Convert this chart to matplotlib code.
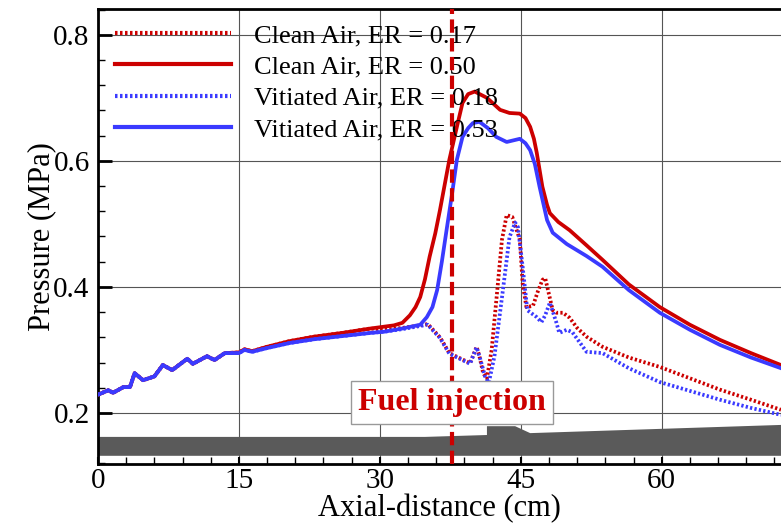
import matplotlib
matplotlib.use("Agg")
import matplotlib.pyplot as plt
from matplotlib.ticker import MultipleLocator
from matplotlib.patches import Polygon

plt.rcParams['font.family'] = ['Liberation Serif', 'DejaVu Serif']

# ---- data ----
# common upstream part (x in cm, pressure in MPa)
x_up = [0.0, 1.1, 1.6, 2.7, 3.4, 3.9, 4.8, 6.0, 6.9, 7.9, 9.5, 10.1, 11.6, 12.4, 13.5, 15.0, 15.6, 16.4, 18.0, 20.4, 23.0, 26.0, 29.0]
p_up_red = [0.229, 0.236, 0.232, 0.241, 0.241, 0.263, 0.252, 0.258, 0.276, 0.268, 0.286, 0.278, 0.290, 0.284, 0.295, 0.296, 0.301, 0.298, 0.305, 0.314, 0.321, 0.327, 0.334]
p_up_blue = [0.229, 0.236, 0.232, 0.241, 0.241, 0.263, 0.252, 0.258, 0.276, 0.268, 0.286, 0.278, 0.290, 0.284, 0.295, 0.295, 0.300, 0.297, 0.303, 0.311, 0.317, 0.322, 0.327]

# Clean Air, ER = 0.50 (downstream of 29 cm)
x_c50 = [30.5, 31.5, 32.4, 33.2, 33.8, 34.3, 34.8, 35.3, 35.9, 36.4, 37.4, 38.2, 38.8, 39.4, 40.1, 41.4, 42.8, 43.8, 44.9, 45.5, 46.0, 46.4, 46.7, 47.3, 47.8, 48.1, 49.0, 50.2, 52.0, 53.7, 56.5, 59.8, 63.0, 66.2, 69.5, 72.7]
p_c50 = [0.337, 0.339, 0.343, 0.355, 0.368, 0.384, 0.412, 0.448, 0.485, 0.522, 0.602, 0.654, 0.692, 0.706, 0.710, 0.700, 0.681, 0.676, 0.675, 0.668, 0.654, 0.635, 0.613, 0.559, 0.530, 0.517, 0.503, 0.490, 0.466, 0.443, 0.404, 0.368, 0.340, 0.316, 0.295, 0.276]

# Vitiated Air, ER = 0.53
x_v53 = [30.5, 32.4, 34.3, 35.0, 35.6, 36.1, 36.6, 37.1, 37.7, 38.2, 38.8, 39.4, 39.9, 40.6, 41.5, 42.4, 43.5, 44.9, 45.5, 46.0, 46.5, 47.0, 47.8, 48.4, 49.9, 52.0, 53.7, 56.5, 59.8, 63.0, 66.2, 69.5, 72.7]
p_v53 = [0.329, 0.334, 0.340, 0.352, 0.368, 0.395, 0.440, 0.490, 0.549, 0.602, 0.638, 0.652, 0.660, 0.662, 0.652, 0.638, 0.630, 0.635, 0.628, 0.617, 0.595, 0.559, 0.506, 0.486, 0.468, 0.449, 0.432, 0.395, 0.359, 0.332, 0.308, 0.288, 0.271]

# Clean Air, ER = 0.17
x_c17 = [30.5, 32.4, 34.3, 35.1, 36.4, 37.4, 38.5, 39.6, 40.3, 40.6, 41.0, 41.4, 41.9, 42.4, 43.0, 43.5, 44.1, 44.9, 45.2, 45.6, 46.3, 46.8, 47.3, 47.6, 48.4, 48.8, 49.5, 50.2, 51.0, 52.0, 53.7, 56.5, 59.8, 63.0, 66.2, 69.5, 72.7]
p_c17 = [0.332, 0.335, 0.339, 0.341, 0.320, 0.295, 0.287, 0.279, 0.305, 0.290, 0.263, 0.255, 0.300, 0.379, 0.475, 0.514, 0.511, 0.475, 0.406, 0.368, 0.370, 0.392, 0.411, 0.414, 0.363, 0.359, 0.359, 0.351, 0.335, 0.321, 0.305, 0.288, 0.273, 0.255, 0.237, 0.221, 0.205]

# Vitiated Air, ER = 0.18
x_v18 = [30.5, 32.4, 34.3, 35.1, 36.4, 37.4, 38.5, 39.6, 40.3, 40.7, 41.2, 41.6, 42.2, 43.1, 43.8, 44.4, 44.7, 45.2, 45.7, 46.7, 47.2, 47.6, 48.1, 48.8, 49.1, 49.9, 50.5, 52.0, 53.7, 56.5, 59.8, 63.0, 66.2, 69.5, 72.7]
p_v18 = [0.329, 0.333, 0.338, 0.340, 0.319, 0.294, 0.286, 0.278, 0.304, 0.285, 0.258, 0.248, 0.290, 0.395, 0.479, 0.502, 0.495, 0.432, 0.363, 0.352, 0.344, 0.355, 0.375, 0.343, 0.327, 0.332, 0.328, 0.297, 0.295, 0.271, 0.249, 0.235, 0.221, 0.208, 0.197]

labels = ["Clean Air, ER = 0.17", "Clean Air, ER = 0.50",
          "Vitiated Air, ER = 0.18", "Vitiated Air, ER = 0.53"]

# combustor geometry (wall outline)
geom_x = [0.0, 34.8, 41.4, 41.4, 44.4, 46.0, 72.7]
geom_top = [0.162, 0.162, 0.165, 0.179, 0.179, 0.168, 0.181]
geom_bottom = 0.132

fuel_x = 37.7
x_ticks = [0, 15, 30, 45, 60]
y_ticks = [0.2, 0.4, 0.6, 0.8]

RED = "#cc0000"
BLUE = "#3a3aff"

fig = plt.figure(figsize=(7.81, 5.25), dpi=100)
ax = fig.add_axes([98/781, 1-464/525, 1-98/781, (464-9)/525])
ax.set_xlim(0, 72.7)
ax.set_ylim(0.119, 0.841)

# geometry
poly_pts = list(zip(geom_x, geom_top)) + [(geom_x[-1], geom_bottom), (geom_x[0], geom_bottom)]
ax.add_patch(Polygon(poly_pts, closed=True, facecolor="#5a5a5a", edgecolor="none", zorder=2))

lw = 2.7
l1, = ax.plot(x_up + x_c17, p_up_red + p_c17, color=RED, lw=lw, ls=(0, (0.6, 0.6)), zorder=3)
l2, = ax.plot(x_up + x_c50, p_up_red + p_c50, color=RED, lw=lw, zorder=3)
l3, = ax.plot(x_up + x_v18, p_up_blue + p_v18, color=BLUE, lw=lw, ls=(0, (0.6, 0.6)), zorder=4)
l4, = ax.plot(x_up + x_v53, p_up_blue + p_v53, color=BLUE, lw=lw, zorder=4)

# fuel injection line
ax.axvline(fuel_x, color=RED, lw=3.0, ls=(0, (3.2, 1.3)), zorder=5)

ax.text(fuel_x, 0.216, "Fuel injection", color=RED, fontsize=23, fontweight="bold",
        ha="center", va="center", zorder=7,
        bbox=dict(boxstyle="square,pad=0.22", facecolor="white", edgecolor="#999999", lw=1.0))

# axes styling
ax.xaxis.set_minor_locator(MultipleLocator(3))
ax.yaxis.set_minor_locator(MultipleLocator(0.04))
ax.set_xticks(x_ticks)
ax.set_yticks(y_ticks)
ax.set_yticklabels([f"{v:.1f}" for v in y_ticks])
ax.tick_params(which="both", direction="in", labelsize=21, top=False, right=False)
ax.tick_params(axis="y", which="major", length=10, width=2)
ax.tick_params(axis="y", which="minor", length=5, width=1)
ax.tick_params(axis="x", which="major", length=5, width=1.5)
ax.tick_params(axis="x", which="minor", length=5, width=1)
ax.tick_params(axis="x", pad=3)
ax.tick_params(axis="y", pad=6)
ax.grid(True, which="major", color="#555555", lw=0.8, zorder=1)
ax.set_axisbelow(True)
for s in ["left", "bottom", "top"]:
    ax.spines[s].set_linewidth(2.0)
ax.spines["right"].set_visible(False)

ax.set_xlabel("Axial-distance (cm)", fontsize=22)
ax.xaxis.set_label_coords(0.5, -0.066)
ax.set_ylabel("Pressure (MPa)", fontsize=22, labelpad=-2)

leg = ax.legend([l1, l2, l3, l4], labels, loc="upper left", bbox_to_anchor=(0.025, 0.968),
                frameon=False, fontsize=19, handlelength=4.4, handletextpad=0.85,
                labelspacing=0.3, borderaxespad=0, borderpad=0)
for h in leg.get_lines():
    h.set_linewidth(3.0)
leg.set_zorder(4.5)

fig.savefig("out.png", dpi=100)
